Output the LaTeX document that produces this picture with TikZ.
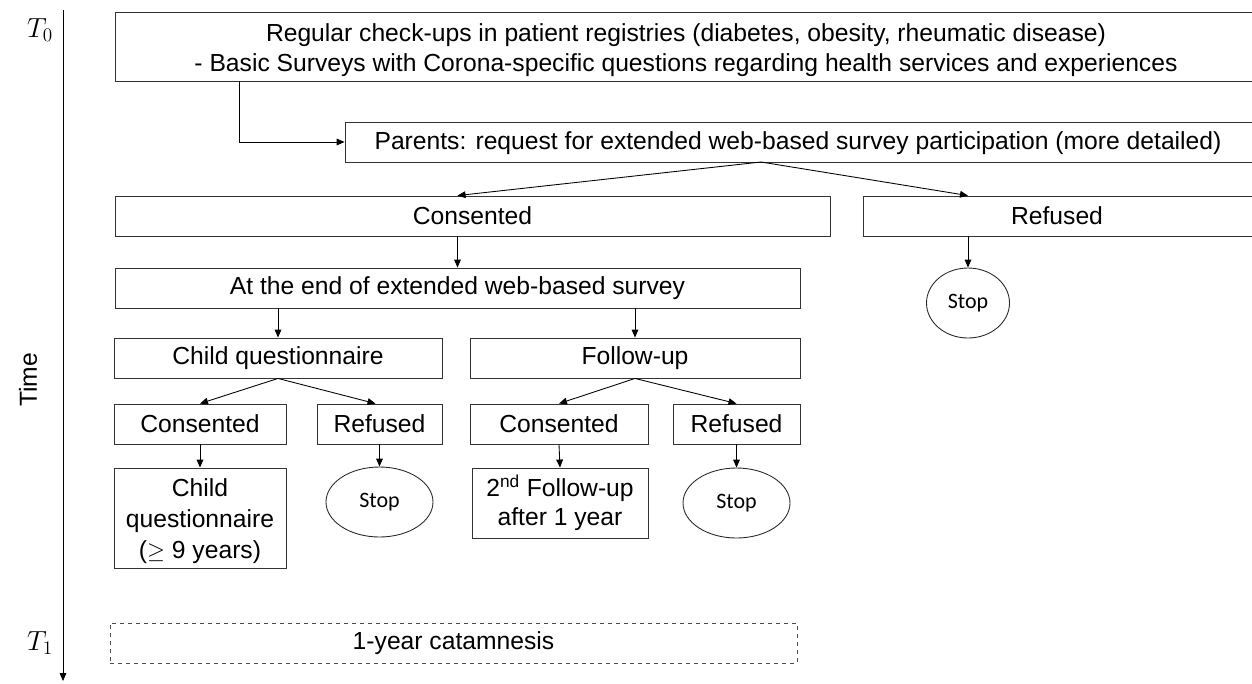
\documentclass[tikz,border=0pt]{standalone}
\usepackage{amssymb}
\usepackage{amsmath}
\usepackage{fontspec}
\setmainfont{Liberation Sans}
\newfontfamily\stopfont{Carlito}
\usetikzlibrary{arrows.meta,shapes.geometric}

\begin{document}
\begin{tikzpicture}[x=0.75pt,y=0.75pt,yscale=-1,xscale=1,
  box/.style={draw=black!80, line width=0.65pt, rectangle, inner sep=0.75pt, align=center, font=\fontsize{18.5}{21}\selectfont},
  stopnode/.style={draw=black!85, line width=0.65pt, ellipse, inner sep=0pt, font=\stopfont\fontsize{16.5}{19}\selectfont},
  arr/.style={line width=0.65pt, -{Triangle[length=6pt,width=5pt]}},
  lbl/.style={inner sep=0.75pt, font=\fontsize{18.5}{21}\selectfont}]
\clip (0,0) rectangle (1252,683);

%Straight Lines: time axis
\coordinate (tstart) at (63,10);
\coordinate (tend) at (63,681);
\draw [arr] (tstart) -- (tend);
% Text Node
\node (tzero) at (40,30) [lbl, font=\fontsize{20}{22}\selectfont] {$T_{0}$};
% Text Node
\node (tone) at (40,643) [lbl, font=\fontsize{20}{22}\selectfont] {$T_{1}$};
% Text Node
\node (time) at (28,380) [lbl, rotate=90] {Time};

%Shape: Rectangle
\node (top) at (688,46.5) [box, minimum width={1146*0.75pt}, minimum height={69*0.75pt}] {};
% Text Node
\node (toptext) at (686,50) [lbl, align=center, font=\fontsize{18.5}{22.5}\selectfont] {Regular check-ups in patient registries (diabetes, obesity, rheumatic disease)\\- Basic Surveys with Corona-specific questions regarding health services and experiences};

%Shape: Rectangle
\node (parents) at (801.5,142) [box, minimum width={913*0.75pt}, minimum height={40*0.75pt}] {};
% Text Node
\node (parentstext) at (798,143) [lbl] {Parents: request for extended web-based survey participation (more detailed)};
\coordinate (split) at (761,162);

%Shape: Rectangle
\node (consbig) at (472.5,216) [box, minimum width={715*0.75pt}, minimum height={40*0.75pt}] {Consented};
%Shape: Rectangle
\node (refbig) at (1060.5,216) [box, minimum width={395*0.75pt}, minimum height={40*0.75pt}] {};
% Text Node
\node (refbigtext) at (1057,216) [lbl] {Refused};
%Shape: Ellipse
\node (stopr) at (968,303) [stopnode, minimum width={83*0.75pt}, minimum height={70*0.75pt}] {Stop};

%Shape: Rectangle
\node (atend) at (457.5,288) [box, minimum width={685*0.75pt}, minimum height={40*0.75pt}] {At the end of extended web-based survey};
%Shape: Rectangle
\node (childq) at (278,358) [box, minimum width={328*0.75pt}, minimum height={40*0.75pt}] {Child questionnaire};
%Shape: Rectangle
\node (followup) at (635,358) [box, minimum width={330*0.75pt}, minimum height={40*0.75pt}] {Follow-up};

%Shape: Rectangle
\node (consa) at (200,424) [box, minimum width={172*0.75pt}, minimum height={40*0.75pt}] {Consented};
%Shape: Rectangle
\node (refa) at (379.5,424) [box, minimum width={125*0.75pt}, minimum height={40*0.75pt}] {Refused};
%Shape: Rectangle
\node (consb) at (559,424) [box, minimum width={178*0.75pt}, minimum height={40*0.75pt}] {Consented};
%Shape: Rectangle
\node (refb) at (736.5,424) [box, minimum width={127*0.75pt}, minimum height={40*0.75pt}] {Refused};

%Shape: Rectangle
\node (childq2) at (200,518) [box, minimum width={172*0.75pt}, minimum height={100*0.75pt}] {};
% Text Node
\node (childq2text) at (200,521) [lbl, align=center, font=\fontsize{18.5}{23.5}\selectfont] {Child\\questionnaire\\($\geq$ 9 years)};
%Shape: Ellipse
\node (stopa) at (379.5,502) [stopnode, minimum width={107*0.75pt}, minimum height={70*0.75pt}] {Stop};
%Shape: Rectangle
\node (followup2) at (560,503) [box, minimum width={176*0.75pt}, minimum height={70*0.75pt}, font=\fontsize{18.5}{22}\selectfont] {2\textsuperscript{nd} Follow-up\\after 1 year};
%Shape: Ellipse
\node (stopb) at (736.5,503) [stopnode, minimum width={107*0.75pt}, minimum height={70*0.75pt}] {Stop};

%Shape: Rectangle (dashed)
\node (catam) at (453.5,643) [box, dashed, line width=0.6pt, draw=black!70, minimum width={687*0.75pt}, minimum height={40*0.75pt}] {1-year catamnesis};

%Connectors
\draw [arr] (top.south west) ++(125,0) |- (parents.west);
\draw [arr] (split) -- (consbig.north -| atend.north);
\draw [arr] (split) -- (stopr.north |- refbig.north);
\draw [arr] (stopr.north |- refbig.south) -- (stopr.north);
\draw [arr] (atend.north |- consbig.south) -- (atend.north);
\draw [arr] (childq.north |- atend.south) -- (childq.north);
\draw [arr] (followup.north |- atend.south) -- (followup.north);
\draw [arr] (childq.south) -- (consa.north);
\draw [arr] (childq.south) -- ([xshift=-3pt]refa.north);
\draw [arr] (followup.south) -- (consb.north);
\draw [arr] (followup.south) -- (refb.north);
\draw [arr] (consa.south) -- (childq2.north);
\draw [arr] (refa.south) -- (stopa.north);
\draw [arr] (consb.south) -- (followup2.north);
\draw [arr] (refb.south) -- (stopb.north);

\end{tikzpicture}
\end{document}
